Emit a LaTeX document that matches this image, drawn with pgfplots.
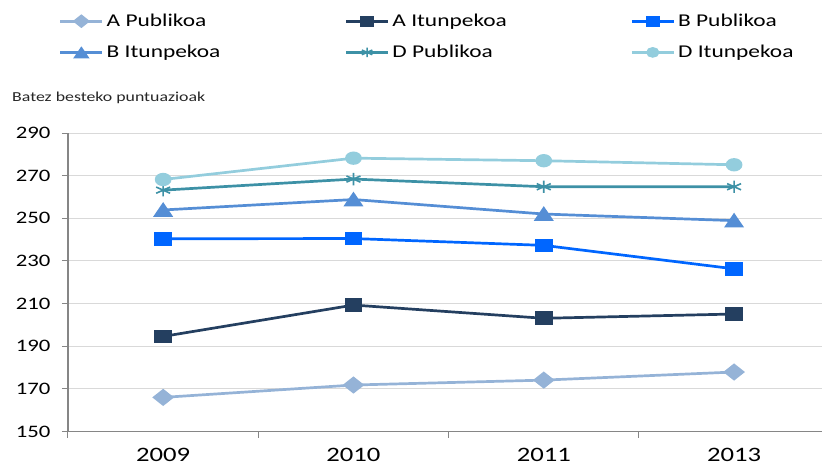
\documentclass[border=0pt]{standalone}
\usepackage{fontspec}
\setmainfont{Carlito}[FakeStretch=1.3]
\usepackage{pgfplots}
\pgfplotsset{compat=1.18}
\definecolor{cApub}{HTML}{95B3D7}
\definecolor{cAitu}{HTML}{243F60}
\definecolor{cBpub}{HTML}{0066FF}
\definecolor{cBitu}{HTML}{558ED5}
\definecolor{cDpub}{HTML}{3D91A6}
\definecolor{cDitu}{HTML}{93CDDD}
\definecolor{axisgray}{HTML}{868686}
\definecolor{gridgray}{HTML}{D9D9D9}
\begin{document}
\begin{tikzpicture}
\useasboundingbox (-68pt,-35.5pt) rectangle (754pt,431.5pt);
\begin{axis}[
  at={(0,0)}, anchor=south west,
  scale only axis, width=754pt, height=298.5pt,
  xmin=-0.5, xmax=3.462, ymin=150, ymax=290,
  axis x line*=bottom, axis y line*=left,
  axis line style={draw=axisgray, line width=1.3pt},
  xtick={0,1,2,3}, xticklabels={2009,2010,2011,2013},
  minor xtick={-0.5,0.5,1.5,2.5},
  major x tick style={draw=none},
  minor x tick style={draw=axisgray, line width=1pt},
  ytick={150,170,...,290},
  y tick style={draw=axisgray, line width=1pt},
  tick align=outside, major tick length=6pt, minor tick length=6pt,
  ymajorgrids, grid style={draw=gridgray, line width=0.9pt},
  /pgf/number format/assume math mode=true,
  yticklabel style={font=\fontsize{17.5}{21}\selectfont, text=black, xshift=-8pt},
  xticklabel style={font=\fontsize{20.5}{24}\selectfont, text=black, yshift=-9pt, inner sep=1pt},
  clip=false,
  legend columns=3,
  legend cell align=left,
  legend style={at={(axis description cs:-0.0119,1.398)}, anchor=north west,
    draw=none, fill=none, inner sep=0pt, outer sep=0pt,
    row sep=17.2pt, column sep=0pt,
    nodes={inner sep=0pt, outer sep=0pt},
    font=\fontsize{18}{21.6}\selectfont},
  legend image code/.code={\draw[mark repeat=2, mark phase=2, #1] plot coordinates {(0pt,0pt) (21pt,0pt) (42pt,0pt)};},
  legend image post style={every mark/.append style={scale=0.75}},
  every axis plot/.append style={line width=2.7pt},
]
\addplot[color=cApub, mark=diamond*, mark size=6.9pt, mark options={xscale=1.68, solid}] coordinates {(0,166.0) (1,171.8) (2,174.1) (3,177.9)};
\addlegendentry{\makebox[241pt][l]{\hspace{3pt}A Publikoa}}
\addplot[color=cAitu, mark=square*, mark size=5.5pt, mark options={xscale=1.36, solid}] coordinates {(0,194.6) (1,209.3) (2,203.1) (3,205.1)};
\addlegendentry{\makebox[241pt][l]{\hspace{3pt}A Itunpekoa}}
\addplot[color=cBpub, mark=square*, mark size=5.5pt, mark options={xscale=1.36, solid}] coordinates {(0,240.4) (1,240.5) (2,237.3) (3,226.3)};
\addlegendentry{\makebox[241pt][l]{\hspace{3pt}B Publikoa}}
\addplot[color=cBitu, mark=triangle*, mark size=7.3pt, mark options={xscale=1.18, yshift=-1.8pt, solid}] coordinates {(0,253.9) (1,258.8) (2,252.0) (3,248.9)};
\addlegendentry{\makebox[241pt][l]{\hspace{3pt}B Itunpekoa}}
\addplot[color=cDpub, mark=asterisk, mark size=6.2pt, mark options={xscale=1.3, line width=1.6pt, solid}] coordinates {(0,263.2) (1,268.4) (2,264.8) (3,264.8)};
\addlegendentry{\makebox[241pt][l]{\hspace{3pt}D Publikoa}}
\addplot[color=cDitu, mark=*, mark size=5.3pt, mark options={xscale=1.32, solid}] coordinates {(0,268.2) (1,278.2) (2,277.0) (3,275.1)};
\addlegendentry{\makebox[241pt][l]{\hspace{3pt}D Itunpekoa}}
\end{axis}
\node[anchor=west, inner sep=0pt, font=\fontsize{13.7}{16}\selectfont, text=black!85] at (-56pt,333.5pt) {Batez besteko puntuazioak};
\end{tikzpicture}
\end{document}
